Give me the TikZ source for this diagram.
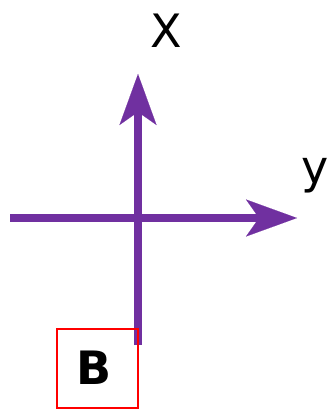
\documentclass[tikz,border=0pt]{standalone}
\usepackage{fontspec}
\setmainfont{DejaVu Sans}
\usetikzlibrary{arrows.meta}
\definecolor{axispurple}{HTML}{7030A0}
\begin{document}
\begin{tikzpicture}[x=1pt,y=-1pt,
  axis/.style={draw=axispurple,line width=8pt,-{Stealth[length=51pt,width=37pt,inset=13pt,fill=axispurple,line width=0.1pt]}},
  lbl/.style={inner sep=0pt,font=\fontsize{46}{50}\selectfont,anchor=base},
  boxB/.style={draw=red,line width=1.4pt,minimum width=81pt,minimum height=79pt,inner sep=0pt}]
\useasboundingbox (0,0) rectangle (330,409);
\coordinate (vbot) at (138,345);
\coordinate (vtop) at (138,74);
\coordinate (hleft) at (10,218);
\coordinate (hright) at (297,218);
\draw[axis] (vbot) -- (vtop);
\draw[axis] (hleft) -- (hright);
\node[lbl] (xl) at (166,48) {X};
\node[lbl] (yl) at (315,183) {y};
\node[boxB] (bbox) at (97.5,368.5) {};
\node[lbl,font=\fontsize{46}{50}\selectfont\bfseries] (bl) at (94,384) {B};
\end{tikzpicture}
\end{document}
